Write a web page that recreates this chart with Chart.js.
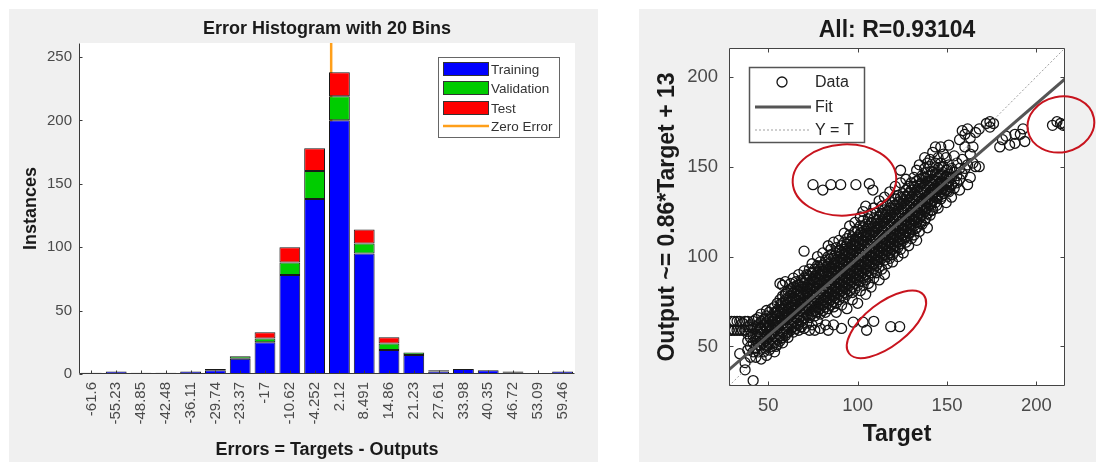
<!DOCTYPE html>
<html>
<head>
<meta charset="utf-8">
<script src="https://cdn.jsdelivr.net/npm/chart.js@4.4.1/dist/chart.umd.min.js"></script>
<style>
  html, body { margin: 0; padding: 0; background: #fff; }
  body { width: 1096px; height: 462px; position: relative; overflow: hidden; }
  .panel { position: absolute; background: #f0f0f0; }
  #histPanel { left: 9px; top: 9px; width: 589px; height: 453px; }
  #regPanel  { left: 639px; top: 9px; width: 457px; height: 453px; }
  canvas { display: block; }
</style>
</head>
<body>
<div class="panel" id="histPanel"><canvas id="chart-hist" width="589" height="453"></canvas></div>
<div class="panel" id="regPanel"><canvas id="chart-reg" width="457" height="453"></canvas></div>
<script>
// ===== Error histogram (left) =====
const binLabels = ['-61.6', '-55.23', '-48.85', '-42.48', '-36.11', '-29.74', '-23.37', '-17', '-10.62', '-4.252',
                   '2.12', '8.491', '14.86', '21.23', '27.61', '33.98', '40.35', '46.72', '53.09', '59.46'];
const trainingCounts   = [1, 2, 1, 1, 2, 3, 12, 25, 78, 138, 200, 95, 19, 15, 2, 4, 3, 1, 0, 2];
const validationCounts = [0, 0, 0, 0, 0, 0, 2, 3, 10, 22, 19, 8, 5, 2, 1, 0, 0, 0, 0, 0];
const testCounts       = [0, 0, 0, 0, 0, 1, 0, 5, 12, 18, 19, 11, 5, 0, 0, 0, 0, 1, 0, 0];
const zeroError = 0;
const histYMax = 261;
const histYTicks = [0, 50, 100, 150, 200, 250];

// ===== Regression plot (right) =====
// columns: [target, [outputs at that target]]
const cloudColumns = [
  [28, [59]], [29.5, [59, 64]], [31, [64, 59]], [32.5, [59, 64]], [34, [46, 59, 64]], [35.5, [59, 63]],
  [37, [37, 41, 59, 64]], [38.5, [48, 53, 57, 61, 64]], [40, [44, 50, 55, 59, 62]],
  [41.5, [31, 47, 52, 56, 60, 64]], [43, [44, 49, 53, 57, 61, 65]], [44.5, [47, 51, 55, 58, 62, 66]],
  [46, [43, 49, 53, 57, 60, 64, 68]], [47.5, [47, 51, 54, 58, 62, 65]], [49, [45, 50, 53, 56, 60, 63, 67, 70]],
  [50.5, [48, 52, 55, 59, 62, 65, 69]], [52, [50, 54, 57, 60, 64, 67, 71]], [53.5, [47, 52, 56, 59, 62, 65, 69, 72]],
  [55, [51, 54, 58, 61, 64, 67, 70, 74]], [56.5, [53, 56, 59, 63, 66, 69, 72, 76, 85]],
  [58, [52, 55, 58, 62, 65, 68, 71, 74, 78, 84]], [59.5, [56, 60, 63, 66, 69, 73, 76, 79, 86]],
  [61, [55, 58, 61, 65, 68, 71, 74, 77, 81]], [62.5, [59, 62, 66, 69, 72, 75, 78, 82, 85]],
  [64, [58, 61, 64, 67, 70, 73, 77, 80, 83, 88]], [65.5, [60, 63, 66, 70, 73, 76, 79, 82, 86]],
  [67, [59, 62, 65, 68, 71, 74, 78, 81, 84, 90]], [68.5, [61, 64, 67, 71, 74, 77, 80, 83, 87]],
  [70, [60, 66, 69, 72, 75, 79, 82, 85, 88, 92, 103]], [71.5, [63, 68, 71, 74, 77, 80, 83, 87, 90]],
  [73, [59, 66, 70, 73, 76, 79, 82, 85, 89, 93]], [74.5, [62, 68, 72, 75, 78, 81, 84, 87, 91, 96]],
  [76, [59, 67, 70, 74, 77, 80, 83, 86, 89, 93]], [77.5, [64, 69, 72, 75, 79, 82, 85, 88, 91, 95, 100]],
  [79, [60, 68, 71, 74, 77, 80, 84, 87, 90, 93, 97]], [80.5, [70, 73, 76, 79, 82, 85, 89, 92, 95, 102]],
  [82, [62, 69, 72, 75, 78, 81, 84, 87, 91, 94, 98]], [83.5, [59, 71, 74, 77, 80, 83, 86, 89, 92, 96, 100, 106]],
  [85, [73, 76, 79, 82, 85, 88, 91, 94, 97, 101, 104]], [86.5, [62, 72, 75, 78, 81, 84, 87, 90, 93, 96, 99, 108]],
  [88, [69, 74, 77, 80, 83, 86, 89, 92, 95, 98, 102, 105]], [89.5, [76, 79, 82, 85, 88, 91, 94, 97, 100, 103, 109]],
  [91, [60, 73, 78, 81, 84, 87, 90, 93, 96, 99, 102, 106]], [92.5, [77, 80, 83, 86, 89, 92, 95, 98, 101, 104, 108, 113]],
  [94, [71, 79, 82, 85, 88, 91, 94, 97, 100, 103, 107, 110]], [95.5, [81, 84, 87, 90, 93, 96, 99, 102, 105, 108, 112, 117]],
  [97, [76, 80, 83, 86, 89, 92, 95, 98, 101, 104, 107, 111]], [98.5, [82, 85, 88, 91, 94, 97, 100, 103, 106, 109, 114, 119]],
  [100, [74, 84, 87, 90, 93, 96, 99, 102, 105, 108, 111, 115]],
  [101.5, [81, 86, 89, 92, 95, 98, 101, 104, 107, 110, 113, 117, 122]],
  [103, [84, 88, 91, 94, 97, 100, 103, 106, 109, 112, 116, 120, 125]],
  [104.5, [79, 87, 90, 93, 96, 99, 102, 105, 108, 111, 114, 118, 128]],
  [106, [85, 89, 92, 95, 98, 101, 104, 107, 110, 113, 117, 121]],
  [107.5, [83, 91, 94, 97, 100, 103, 106, 109, 112, 115, 119, 124]],
  [109, [88, 93, 96, 99, 102, 105, 108, 111, 114, 117, 121, 127]],
  [110.5, [91, 95, 98, 101, 104, 107, 110, 113, 116, 120, 124]],
  [112, [87, 94, 97, 100, 103, 106, 109, 112, 115, 118, 122, 131]],
  [113.5, [93, 99, 102, 105, 108, 111, 114, 117, 120, 124, 128]],
  [115, [90, 98, 101, 104, 107, 110, 113, 116, 119, 122, 126, 133]],
  [116.5, [96, 100, 103, 106, 109, 112, 115, 118, 121, 125, 129]],
  [118, [99, 102, 105, 108, 111, 114, 117, 120, 123, 127, 136]],
  [119.5, [97, 101, 104, 107, 110, 113, 116, 119, 122, 126, 130]],
  [121, [103, 106, 109, 112, 115, 118, 121, 124, 128, 132, 139]],
  [122.5, [100, 105, 108, 111, 114, 117, 120, 123, 126, 130, 134]],
  [124, [104, 107, 110, 113, 116, 119, 122, 125, 129, 133, 141, 148]],
  [125.5, [102, 109, 112, 115, 118, 121, 124, 127, 131, 135]],
  [127, [108, 111, 114, 117, 120, 123, 126, 129, 133, 137, 143]],
  [128.5, [106, 113, 116, 119, 122, 125, 128, 131, 135, 139]],
  [130, [110, 115, 118, 121, 124, 127, 130, 133, 137, 141]],
  [131.5, [112, 117, 120, 123, 126, 129, 132, 135, 139, 144]],
  [133, [109, 116, 119, 122, 125, 128, 131, 134, 137, 142, 148]],
  [134.5, [114, 121, 124, 127, 130, 133, 136, 139, 143, 151]],
  [136, [118, 123, 126, 129, 132, 135, 138, 141, 145]],
  [137.5, [120, 125, 128, 131, 134, 137, 140, 144, 149, 155]],
  [139, [116, 124, 127, 130, 133, 136, 139, 142, 147, 152]],
  [140.5, [123, 129, 132, 135, 138, 141, 145, 150, 154]],
  [142, [126, 131, 134, 137, 140, 143, 147, 158]],
  [143.5, [130, 133, 136, 139, 142, 146, 152, 161]],
  [145, [127, 134, 137, 140, 144, 149, 155]],
  [146.5, [132, 136, 139, 142, 146, 152, 161]],
  [148, [135, 138, 141, 145, 150, 157]],
  [149.5, [130, 137, 140, 144, 148, 155]],
  [151, [136, 139, 142, 146, 151, 162]],
  [152.5, [133, 140, 144, 149]], [154, [138, 142, 147, 156]], [155.5, [141, 145, 152]],
  [157, [137, 143, 149, 165]], [158.5, [146, 154, 170]], [160, [149, 161, 168]],
  [161.5, [140, 151, 171]], [163, [144, 157, 166]], [164.5, [152, 161]], [166, [150, 169]],
  [168, [150, 171]], [172, [174]], [174, [172, 175]], [176, [174]],
  [179.5, [161]], [181, [165]], [183, [167]], [185, [162]], [188, [168, 163]],
  [191, [168]], [192.5, [171]], [193.5, [164]],
];
// second pass over the dense core, between the columns above
const coreColumns = [
  [45.2, [50.5, 55.5, 59.5]], [48.2, [49, 55.5, 61, 65.5]], [51.2, [51.5, 56.5, 61.5, 66]],
  [54.2, [50, 55.5, 60.5, 63.5, 68.5]], [57.2, [54.5, 60.5, 64.5, 70.5, 74]],
  [60.2, [57.5, 61.5, 67.5, 71.5, 75.5, 80]], [63.2, [60.5, 63.5, 68.5, 71.5, 76.5, 81.5]],
  [66.2, [62.5, 66.5, 71.5, 75.5, 80.5, 84]], [69.2, [65.5, 70.5, 73.5, 78.5, 83.5, 86]],
  [72.2, [67.5, 71.5, 75.5, 80.5, 84.5, 89.5]], [75.2, [69.5, 73.5, 78.5, 82.5, 87.5, 91.5]],
  [78.2, [70.5, 76.5, 80.5, 85.5, 89.5, 94]], [81.2, [73.5, 77.5, 82.5, 86.5, 91.5, 95.5]],
  [84.2, [75.5, 80.5, 84.5, 89.5, 93.5, 98.5]], [87.2, [78.5, 82.5, 87.5, 91.5, 96.5, 100.5]],
  [90.2, [80.5, 85.5, 89.5, 94.5, 98.5, 103.5]], [93.2, [83.5, 87.5, 92.5, 96.5, 101.5, 105.5]],
  [96.2, [85.5, 90.5, 94.5, 99.5, 103.5, 108.5]], [99.2, [88.5, 92.5, 97.5, 101.5, 106.5, 110.5]],
  [102.2, [90.5, 95.5, 99.5, 104.5, 108.5, 113.5]], [105.2, [93.5, 97.5, 102.5, 106.5, 111.5, 115.5]],
  [108.2, [95.5, 100.5, 104.5, 109.5, 113.5, 118.5]], [111.2, [98.5, 102.5, 107.5, 111.5, 116.5, 120.5]],
  [114.2, [100.5, 105.5, 109.5, 114.5, 118.5, 123.5]], [117.2, [103.5, 107.5, 112.5, 116.5, 121.5, 125.5]],
  [120.2, [105.5, 110.5, 114.5, 119.5, 123.5, 128.5]], [123.2, [108.5, 112.5, 117.5, 121.5, 126.5, 130.5]],
  [126.2, [110.5, 115.5, 119.5, 124.5, 128.5, 133.5]], [129.2, [113.5, 117.5, 122.5, 126.5, 131.5, 135.5]],
  [132.2, [115.5, 120.5, 124.5, 129.5, 133.5, 138.5]], [135.2, [118.5, 122.5, 127.5, 131.5, 136.5, 140.5]],
  [138.2, [121.5, 126.5, 130.5, 135.5, 139.5, 143.5]], [141.2, [125.5, 129.5, 134.5, 138.5, 142.5, 147.5]],
  [144.2, [128.5, 132.5, 137.5, 141.5, 145.5]], [147.2, [133.5, 137.5, 141.5, 145.5, 149.5]],
  [150.2, [136.5, 140.5, 144.5, 148.5]],
];
const upperOutliers = [[75, 140], [80.5, 137], [85, 140], [90.5, 140], [99, 140], [106.5, 140.5], [108.5, 137]];
const lowerOutliers = [[97.5, 63.5], [103, 63.5], [105, 59], [109, 64], [118.5, 61], [123.5, 61]];
const rightOutliers = [[209, 173], [211.5, 175], [213.5, 174], [215, 173], [216, 173.5]];

const fitTargets = [28, 216];
const fitOutputs = [37.1, 198.8];
const identityLine = [28, 216];
const regMin = 28, regMax = 216;
const regTicks = [50, 100, 150, 200];

// red hand-drawn marks round the outlier groups (centre in data units, radii in data units, tilt in degrees)
const circledGroups = [
  { t: 92.6, o: 142.6, dt: 29, do: 19.8, tilt: -3 },
  { t: 213.7, o: 173.5, dt: 18.8, do: 15.5, tilt: -12 },
  { t: 116.1, o: 62.3, dt: 26.5, do: 12, tilt: -38 },
];

const FONT = '"Liberation Sans", Arial, Helvetica, sans-serif';
Chart.defaults.font.family = FONT;
Chart.defaults.animation = false;

// white plot area on grey figure background
const plotBg = {
  id: 'plotBg',
  beforeDraw(chart) {
    const { ctx, chartArea: a } = chart;
    ctx.save();
    ctx.fillStyle = '#fff';
    ctx.fillRect(a.left, a.top, a.right - a.left, a.bottom - a.top);
    ctx.restore();
  }
};

// MATLAB style axes: axis lines + inward tick marks
const matlabAxes = {
  id: 'matlabAxes',
  afterDatasetsDraw(chart, args, o) {
    const { ctx, chartArea: a } = chart;
    const xs = chart.scales.x, ys = chart.scales.y;
    const L = o.tickLen || 4;
    const l = Math.round(a.left) + 0.5, r = Math.round(a.right) - 0.5;
    const t = Math.round(a.top) + 0.5, b = Math.round(a.bottom) - 0.5;
    ctx.save();
    ctx.strokeStyle = o.color || '#444';
    ctx.lineWidth = 1;
    ctx.beginPath();
    const seg = (x0, y0, x1, y1) => { ctx.moveTo(x0, y0); ctx.lineTo(x1, y1); };
    seg(l, t, l, b); seg(l, b, r, b);
    if (o.box) { seg(l, t, r, t); seg(r, t, r, b); }
    xs.ticks.forEach(tk => {
      const px = Math.round(xs.getPixelForValue(tk.value)) + 0.5;
      seg(px, b, px, b - L);
      if (o.box) seg(px, t, px, t + L);
    });
    ys.ticks.forEach(tk => {
      const py = Math.round(ys.getPixelForValue(tk.value)) + 0.5;
      seg(l, py, l + L, py);
      if (o.box) seg(r, py, r - L, py);
    });
    ctx.stroke();
    ctx.restore();
  }
};

// legend box drawn inside the plot, one row per dataset that has a legendSymbol
const boxLegend = {
  id: 'boxLegend',
  afterDraw(chart, args, o) {
    if (!o.rows) return;
    const { ctx } = chart;
    ctx.save();
    ctx.fillStyle = '#fff';
    ctx.fillRect(o.left, o.top, o.width, o.height);
    ctx.strokeStyle = o.borderColor;
    ctx.lineWidth = o.borderWidth;
    ctx.strokeRect(o.left + 0.5, o.top + 0.5, o.width, o.height);
    ctx.font = o.font;
    ctx.textBaseline = 'middle';
    let row = 0;
    chart.data.datasets.forEach(ds => {
      if (!ds.legendSymbol) return;
      const y = o.rows[row++];
      ctx.save();
      if (ds.legendSymbol === 'box') {
        ctx.fillStyle = ds.backgroundColor;
        ctx.fillRect(o.symLeft, y - o.symH / 2, o.symRight - o.symLeft, o.symH);
        ctx.strokeStyle = '#333';
        ctx.lineWidth = 1;
        ctx.strokeRect(o.symLeft + 0.5, y - o.symH / 2 + 0.5, o.symRight - o.symLeft - 1, o.symH - 1);
      } else if (ds.legendSymbol === 'line') {
        ctx.strokeStyle = ds.borderColor;
        ctx.lineWidth = ds.borderWidth;
        ctx.setLineDash(ds.borderDash || []);
        ctx.beginPath();
        ctx.moveTo(o.symLeft, y); ctx.lineTo(o.symRight, y);
        ctx.stroke();
      } else if (ds.legendSymbol === 'circle') {
        ctx.strokeStyle = ds.borderColor;
        ctx.lineWidth = ds.borderWidth;
        ctx.beginPath();
        ctx.arc(o.markerX, y, ds.pointRadius, 0, Math.PI * 2);
        ctx.stroke();
      }
      ctx.restore();
      ctx.fillStyle = o.textColor;
      ctx.fillText(ds.label, o.textX, y + 1);
    });
    ctx.restore();
  }
};

// red ellipses round the outlier groups
const markEllipses = {
  id: 'markEllipses',
  afterDraw(chart, args, o) {
    if (!o.items) return;
    const { ctx } = chart;
    const xs = chart.scales.x, ys = chart.scales.y;
    ctx.save();
    ctx.strokeStyle = o.color;
    ctx.lineWidth = o.width;
    o.items.forEach(e => {
      const cx = xs.getPixelForValue(e.t), cy = ys.getPixelForValue(e.o);
      const rx = Math.abs(xs.getPixelForValue(e.t + e.dt) - cx);
      const ry = Math.abs(ys.getPixelForValue(e.o + e.do) - cy);
      ctx.beginPath();
      ctx.ellipse(cx, cy, rx, ry, e.tilt * Math.PI / 180, 0, Math.PI * 2);
      ctx.stroke();
    });
    ctx.restore();
  }
};

const useTicks = list => s => { s.ticks = list.map(v => ({ value: v })); };

// ----- Chart 1: histogram -----
const binCenters = binLabels.map(Number);
const binHalf = (binCenters[binCenters.length - 1] - binCenters[0]) / (binCenters.length - 1) / 2;
const asBars = counts => counts.map((c, i) => ({ x: binCenters[i], y: c || null }));
const barStyle = { borderColor: '#1a1a1a', borderWidth: 1, borderSkipped: false, barPercentage: 0.84, categoryPercentage: 1, stack: 'err' };

new Chart(document.getElementById('chart-hist'), {
  type: 'bar',
  data: {
    datasets: [
      { label: 'Training',   data: asBars(trainingCounts),   backgroundColor: '#0000ff', legendSymbol: 'box', ...barStyle },
      { label: 'Validation', data: asBars(validationCounts), backgroundColor: '#00cc00', legendSymbol: 'box', ...barStyle },
      { label: 'Test',       data: asBars(testCounts),       backgroundColor: '#ff0000', legendSymbol: 'box', ...barStyle },
      { type: 'line', label: 'Zero Error', data: [{ x: zeroError, y: 0 }, { x: zeroError, y: histYMax }],
        borderColor: '#ff9f1a', borderWidth: 2.5, pointRadius: 0, legendSymbol: 'line' },
    ],
  },
  options: {
    responsive: false,
    layout: { padding: { top: 0, left: 0, right: 23, bottom: 0 } },
    scales: {
      x: {
        type: 'linear', stacked: true, offset: false,
        min: binCenters[0] - binHalf, max: binCenters[binCenters.length - 1] + binHalf,
        afterBuildTicks: useTicks(binCenters),
        afterFit: s => { s.height = 88; },
        grid: { display: false, drawTicks: false, offset: false }, border: { display: false },
        ticks: { autoSkip: false, minRotation: 90, maxRotation: 90, padding: 8, color: '#4a4a4a',
                 font: { size: 15 }, callback: (v, i) => binLabels[i] },
        title: { display: true, text: 'Errors = Targets - Outputs', color: '#1a1a1a',
                 font: { size: 18, weight: 'bold' }, padding: { top: 0, bottom: 1 } },
      },
      y: {
        stacked: true, min: 0, max: histYMax,
        afterBuildTicks: useTicks(histYTicks),
        afterFit: s => { s.width = 70; },
        grid: { display: false, drawTicks: false }, border: { display: false },
        ticks: { padding: 7, color: '#4a4a4a', font: { size: 15 } },
        title: { display: true, text: 'Instances', color: '#1a1a1a',
                 font: { size: 18, weight: 'bold' }, padding: { top: 11, bottom: 0 } },
      },
    },
    plugins: {
      legend: { display: false },
      tooltip: { enabled: false },
      title: { display: true, text: 'Error Histogram with 20 Bins', fullSize: false, color: '#1a1a1a',
               font: { size: 18, weight: 'bold' }, padding: { top: 9.2, bottom: 3.2 } },
      matlabAxes: { color: '#3a3a3a', tickLen: 3, box: false },
      boxLegend: { left: 429, top: 48, width: 121, height: 80, borderColor: '#666', borderWidth: 1,
                   rows: [60, 79, 99, 117], symLeft: 434, symRight: 480, symH: 14, markerX: 457,
                   textX: 482, font: '13.5px ' + FONT, textColor: '#333' },
    },
  },
  plugins: [plotBg, matlabAxes, boxLegend],
});

// ----- Chart 2: regression -----
const cloudPoints = [];
[cloudColumns, coreColumns].forEach(cols =>
  cols.forEach(([t, outs]) => outs.forEach(o => cloudPoints.push({ x: t, y: o }))));
[upperOutliers, lowerOutliers, rightOutliers].forEach(g => g.forEach(([t, o]) => cloudPoints.push({ x: t, y: o })));

new Chart(document.getElementById('chart-reg'), {
  type: 'scatter',
  data: {
    datasets: [
      { label: 'Data', data: cloudPoints, pointStyle: 'circle', pointRadius: 5, borderWidth: 1.3,
        borderColor: '#141414', backgroundColor: 'rgba(0,0,0,0)', order: 3, legendSymbol: 'circle' },
      { label: 'Fit', data: fitTargets.map((t, i) => ({ x: t, y: fitOutputs[i] })), showLine: true,
        borderColor: '#555', borderWidth: 3, pointRadius: 0, order: 1, legendSymbol: 'line' },
      { label: 'Y = T', data: identityLine.map(v => ({ x: v, y: v })), showLine: true,
        borderColor: '#a0a0a0', borderWidth: 1, borderDash: [2, 2], pointRadius: 0, order: 2, legendSymbol: 'line' },
    ],
  },
  options: {
    responsive: false,
    layout: { padding: { top: 0, left: 0, right: 31, bottom: 0 } },
    scales: {
      x: {
        min: regMin, max: regMax,
        afterBuildTicks: useTicks(regTicks),
        afterFit: s => { s.height = 76; },
        grid: { display: false, drawTicks: false }, border: { display: false },
        ticks: { padding: 9, color: '#4a4a4a', font: { size: 18.5 } },
        title: { display: true, text: 'Target', color: '#1a1a1a',
                 font: { size: 23, weight: 'bold' }, padding: { top: 0, bottom: 13.2 } },
      },
      y: {
        min: regMin, max: regMax,
        afterBuildTicks: useTicks(regTicks),
        afterFit: s => { s.width = 90; },
        grid: { display: false, drawTicks: false }, border: { display: false },
        ticks: { padding: 11, color: '#4a4a4a', font: { size: 18.5 } },
        title: { display: true, text: 'Output ~= 0.86*Target + 13', color: '#1a1a1a',
                 font: { size: 23, weight: 'bold' }, padding: { top: 15.2, bottom: 0 } },
      },
    },
    plugins: {
      legend: { display: false },
      tooltip: { enabled: false },
      title: { display: true, text: 'All: R=0.93104', fullSize: false, color: '#1a1a1a',
               font: { size: 23, weight: 'bold' }, padding: { top: 8.2, bottom: 3.2 } },
      matlabAxes: { color: '#444', tickLen: 4, box: true },
      boxLegend: { left: 110, top: 58, width: 115, height: 75, borderColor: '#555', borderWidth: 1.5,
                   rows: [73, 98, 121], symLeft: 116, symRight: 172, symH: 0, markerX: 143,
                   textX: 176, font: '16px ' + FONT, textColor: '#262626' },
      markEllipses: { items: circledGroups, color: '#c8141e', width: 2 },
    },
  },
  plugins: [plotBg, matlabAxes, boxLegend, markEllipses],
});
</script>
</body>
</html>
